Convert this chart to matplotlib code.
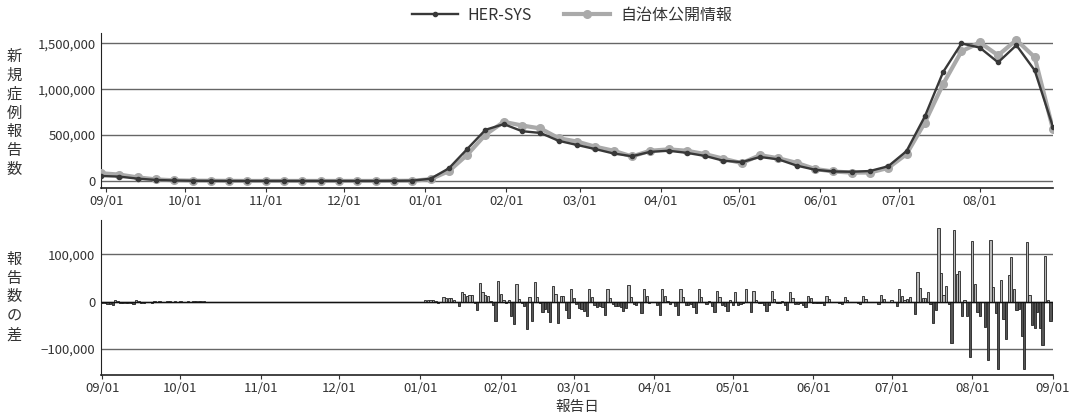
import matplotlib
matplotlib.use("Agg")
import matplotlib.pyplot as plt
import matplotlib.dates as mdates
from matplotlib.ticker import FuncFormatter
import pandas as pd

plt.rcParams["font.family"] = ["Noto Sans CJK JP", "DejaVu Sans"]

# weekly new case reports (Mondays, 2021-08-30 .. 2022-08-29)
week_start = "2021-08-30"
her_sys = [
    55000, 48000, 26000, 12000, 6000, 3000, 2000, 1000, 1000, 1000, 1000, 1000,
    1000, 1000, 1000, 1000, 2000, 4000, 25000, 138000, 348000, 558000, 620000, 543000,
    524000, 438000, 393000, 348000, 300000, 270000, 318000, 330000, 307000, 273000,
    221000, 206000, 262000, 236000, 168000, 123000, 104000, 101000, 109000, 161000,
    326000, 704000, 1188000, 1499000, 1454000, 1293000, 1480000, 1206000, 588000,
]
jichitai = [
    85000, 70000, 40000, 18000, 8000, 4000, 3000, 2000, 1000, 1000, 1000, 1000,
    1000, 1000, 1000, 1000, 2000, 3000, 20000, 108000, 285000, 505000, 645000, 605000,
    573000, 467000, 430000, 374000, 330000, 268000, 330000, 345000, 330000, 293000,
    243000, 195000, 282000, 248000, 198000, 131000, 104000, 92000, 92000, 143000,
    293000, 637000, 1057000, 1413000, 1510000, 1370000, 1537000, 1349000, 562000,
]

# daily difference of reports (thousands)
diff_2021_start, diff_2021_end = "2021-09-01", "2021-10-10"
diff_2021 = [
    -3, -3, -4, -4, -6, 4, 2,
    -2, -2, -3, -3, -3, -4, 3,
    2, -2, -2, -1, -1, -2, 1,
    -1, 1, -1, -1, 1, 1, -1,
    1, -1, 1, -1, -1, 1, -1,
    1, 1, 1, 1, 1,
]
diff_2022_start, diff_2022_end = "2022-01-03", "2022-09-01"
diff_2022 = [
    3, 3, 3, 3, 1, -2, -1,
    10, 8, 7, 8, 3, 0, -8,
    20, 17, 12, 14, 14, -2, -18,
    40, 20, 14, 13, 2, -7, -40,
    44, 17, 3, -3, 3, -30, -48,
    37, 5, -3, -10, -58, 10, -40,
    42, 11, -2, -22, -15, -22, -42,
    33, 16, -45, 13, 12, -18, -35,
    28, 9, -4, -13, -15, -20, -31,
    28, 11, -7, -11, -9, -12, -29,
    28, 9, -4, -9, -9, -11, -20,
    -13, 35, 11, -4, -6, 0, -23,
    27, 12, -2, 0, -1, -7, -27,
    27, 13, 1, -4, -1, -9, -28,
    28, 11, -7, -7, -5, -11, -24,
    26, 11, 0, -5, 2, -9, -22,
    23, 11, -7, -9, -20, 4, -7,
    20, -7, -5, -3, 28, 0, -22,
    22, 4, -2, -3, -7, -20, -7,
    23, 6, -3, -3, 1, -7, -18,
    20, 9, -5, -5, -3, -7, -11,
    13, 7, -2, -2, -2, -3, -7,
    12, 6, -1, 0, 0, -2, -5,
    11, 4, 0, -1, 0, -2, -5,
    12, 6, -1, 0, -1, -1, -4,
    15, 6, -1, -1, 4, 0, -9,
    28, 13, 4, 5, 11, 0, -26,
    64, 29, 9, 7, 20, -4, -45,
    -18, 157, 60, 15, 33, -4, -88,
    152, 58, 66, -31, 4, -31, -117,
    129, 38, -22, -31, 0, -53, -124,
    131, 31, -24, -142, 46, -36, -79,
    56, 95, 26, -18, -15, -73, -142,
    126, 15, -49, -56, -22, -56, -92,
    97, 4, -40, -36,
]

weeks = pd.date_range(week_start, periods=len(her_sys), freq="7D")
days = list(pd.date_range(diff_2021_start, diff_2021_end)) + list(pd.date_range(diff_2022_start, diff_2022_end))
diff = [v * 1000 for v in diff_2021 + diff_2022]

fmt = FuncFormatter(lambda v, p: f"{v:,.0f}".replace("-", "\u2212"))
month_ticks = pd.date_range("2021-09-01", "2022-09-01", freq="MS")
txt = "#333333"

fig = plt.figure(figsize=(10.75, 4.16), dpi=100)
ax1 = fig.add_axes([101 / 1075, 1 - 188 / 416, 952 / 1075, 155 / 416])
ax2 = fig.add_axes([101 / 1075, 1 - 375 / 416, 952 / 1075, 155 / 416])

# top panel
l2, = ax1.plot(weeks, jichitai, color="#aaaaaa", lw=3, marker="o", ms=5.5, zorder=3)
l1, = ax1.plot(weeks, her_sys, color="#383838", lw=1.7, marker="o", ms=3, zorder=4)
ax1.set_ylim(-76000, 1613000)
ax1.set_yticks([0, 500000, 1000000, 1500000])

# bottom panel
colors = ["#b8b8b8" if v >= 0 else "#555555" for v in diff]
ax2.bar(days, diff, width=0.85, color=colors, edgecolor="#222222", linewidth=0.6, zorder=3)
ax2.axhline(0, color="#111111", lw=1, zorder=4)
ax2.set_ylim(-155000, 173000)
ax2.set_yticks([-100000, 0, 100000])

for ax in (ax1, ax2):
    ax.yaxis.set_major_formatter(fmt)
    ax.yaxis.grid(True, color="#666666", lw=1)
    ax.set_axisbelow(True)
    ax.set_xticks(month_ticks)
    ax.xaxis.set_major_formatter(mdates.DateFormatter("%m/%d"))
    ax.spines["top"].set_visible(False)
    ax.spines["right"].set_visible(False)
    ax.spines["left"].set_color("#222222")
    ax.spines["bottom"].set_color("#222222")
    ax.spines["bottom"].set_linewidth(1.2)
    ax.tick_params(axis="y", length=0, pad=4, labelsize=9.5, colors=txt)
    ax.tick_params(axis="x", length=3, width=0.8, pad=2, labelsize=9.5, colors=txt)
ax1.set_xlim(pd.Timestamp("2021-08-30"), pd.Timestamp("2022-08-29"))
ax2.set_xlim(pd.Timestamp("2021-08-31 12:00"), pd.Timestamp("2022-09-01"))

fig.legend([l1, l2], ["HER-SYS", "自治体公開情報"], loc="center",
           bbox_to_anchor=(572 / 1075, 1 - 15 / 416), ncol=2, frameon=False,
           fontsize=11.5, handlelength=2.9, handletextpad=0.6, columnspacing=2.0,
           labelcolor=txt)

fig.text(14 / 1075, 1 - 113 / 416, "\n".join("新規症例報告数"), ha="center", va="center",
         fontsize=11, linespacing=1.15, color=txt)
fig.text(14 / 1075, 1 - 297 / 416, "\n".join("報告数の差"), ha="center", va="center",
         fontsize=11, linespacing=1.15, color=txt)
fig.text(577 / 1075, 1 - 407 / 416, "報告日", ha="center", va="center", fontsize=10.5, color=txt)

fig.savefig("out.png", dpi=100)
